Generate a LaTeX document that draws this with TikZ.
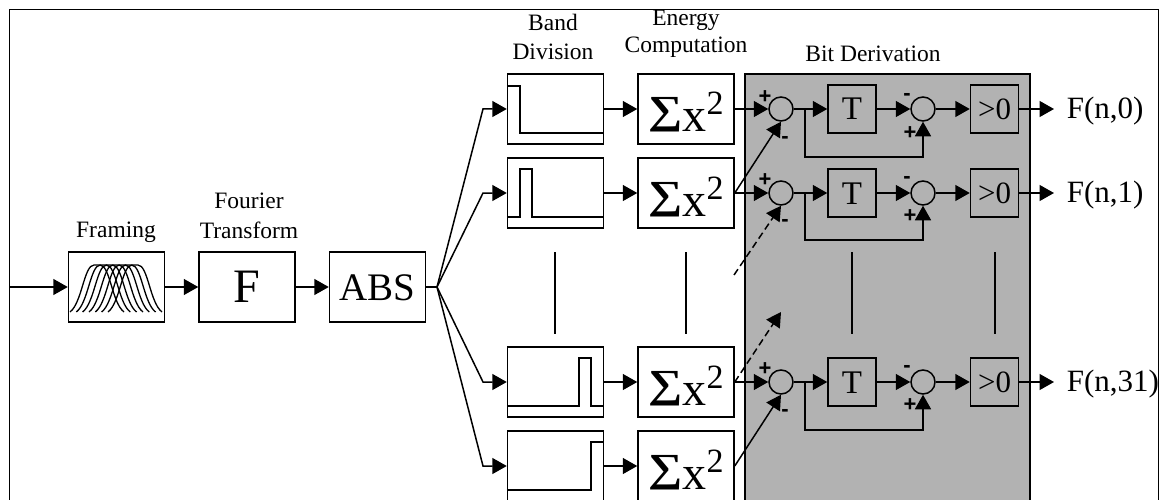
\documentclass[tikz,border=0pt]{standalone}
\usepackage{fontspec}
\setmainfont{Liberation Serif}
\newfontfamily\signfont{Liberation Sans}
\usepackage{tikz}
\usetikzlibrary{arrows.meta, positioning}

\newcommand{\fsize}[1]{\fontsize{#1}{#1}\selectfont}
\newcommand{\sumsquare}{\raisebox{-23pt}[0pt][0pt]{\fsize{48}\raisebox{8pt}{\scalebox{1}[0.83]{\bfseries ∑}}x\raisebox{17pt}{\fsize{34}2}}}

\begin{document}
\begin{tikzpicture}[->, >={Triangle[length=14.5pt,width=16pt]}, x=1pt, y=-1pt, line width=1.5pt, node distance=130.5pt]
\tikzstyle{block}=[draw=black,fill=white,minimum width=96pt,minimum height=70pt,inner sep=0pt]
\tikzstyle{small block}=[draw=black,minimum width=48pt,minimum height=48pt,inner sep=0pt]
\tikzstyle{adder}=[circle,draw=black,minimum size=24pt,inner sep=0pt]
\tikzstyle{caption}=[font=\fsize{23.5},align=center,inner sep=0pt]
\tikzstyle{sign}=[font=\signfont\bfseries\fsize{22},inner sep=0pt]
\tikzstyle{result}=[font=\fsize{31},anchor=west,inner sep=0pt,yshift=-2pt]
\tikzstyle{dashed link}=[dash pattern=on 7pt off 4pt]

\clip (0,0) rectangle (1161,500);
\draw[-, line width=1pt] (9,10) rectangle (1158,520);

% panel behind the bit derivation
\node[draw=black,fill=black!30,minimum width=285pt,minimum height=428pt,inner sep=0pt] (panel) at (887.5,288) {};

% front end
\coordinate (input) at (9,287);
\node[block] (framing) at (116.5,287) {};
\node[block,font=\fsize{48}] (fourier) [right of=framing] {F};
\node[block,font=\fsize{39},text height=26pt,text depth=-3pt] (abs) [right of=fourier] {ABS};
\coordinate (split) at (437,287);

% band filters and energies
\node[block] (bandA) at (555.5,109) {};
\node[block] (bandB) at (555.5,193) {};
\node[block] (bandC) at (555.5,382) {};
\node[block] (bandD) at (555.5,466) {};
\node[block] (energyA) [right of=bandA] {\sumsquare};
\node[block] (energyB) [right of=bandB] {\sumsquare};
\node[block] (energyC) [right of=bandC] {\sumsquare};
\node[block] (energyD) [right of=bandD] {\sumsquare};
\coordinate (inA) at (483,109);
\coordinate (inB) at (483,193);
\coordinate (inC) at (483,382);
\coordinate (inD) at (483,466);

% bit derivation rows
\node[adder] (sumA) at (781,109) {};
\node[adder] (sumB) at (781,193) {};
\node[adder] (sumC) at (781,382) {};
\node[small block,font=\fsize{33},text height=22pt,text depth=-4pt] (delayA) at (852,109) {T};
\node[small block,font=\fsize{33},text height=22pt,text depth=-4pt] (delayB) at (852,193) {T};
\node[small block,font=\fsize{33},text height=22pt,text depth=-4pt] (delayC) at (852,382) {T};
\node[adder] (diffA) at (923,109) {};
\node[adder] (diffB) at (923,193) {};
\node[adder] (diffC) at (923,382) {};
\node[small block,font=\fsize{31},text height=21pt,text depth=-3pt] (signA) at (994.5,109) {>0};
\node[small block,font=\fsize{31},text height=21pt,text depth=-3pt] (signB) at (994.5,193) {>0};
\node[small block,font=\fsize{31},text height=21pt,text depth=-3pt] (signC) at (994.5,382) {>0};
\coordinate (tapA) at (805,109);
\coordinate (tapB) at (805,193);
\coordinate (tapC) at (805,382);
\coordinate (loopA) at (923,157);
\coordinate (loopB) at (923,240);
\coordinate (loopC) at (923,430);
\coordinate (outA) at (1054,109);
\coordinate (outB) at (1054,193);
\coordinate (outC) at (1054,382);
\coordinate (crossB) at (734,275);
\coordinate (crossC) at (781,312);

\node[result] (labelA) at (1066,109) {F(n,0)};
\node[result] (labelB) at (1066,193) {F(n,1)};
\node[result] (labelC) at (1066,382) {F(n,31)};

% captions
\node[caption] (capFraming) at (116,232) {Framing};
\node[caption] (capFourier) at (249,216) {Fourier\\[6pt]Transform};
\node[caption] (capBand) at (553,37) {Band\\[6pt]Division};
\node[caption] (capEnergy) at (686,34) {Energy\\[4pt]Computation};
\node[caption] (capBit) at (873,54) {Bit Derivation};

% signs at the adders
\node[sign] (plusA) at (765,97) {+};
\node[sign] (plusB) at (765,180) {+};
\node[sign] (plusC) at (765,369) {+};
\node[sign] (minusA) at (785,140) {-};
\node[sign] (minusB) at (785,223) {-};
\node[sign] (minusC) at (785,413) {-};
\node[sign] (minusD) at (907,97) {-};
\node[sign] (minusE) at (907,180) {-};
\node[sign] (minusF) at (907,369) {-};
\node[sign] (plusD) at (910,133) {+};
\node[sign] (plusE) at (910,216) {+};
\node[sign] (plusF) at (910,405) {+};

% pass bands
\draw[-] (bandA.west |- 0,86) -- (520,86) -- (520,133) -- (bandA.east |- 0,133);
\draw[-] (bandB.west |- 0,217) -- (520,217) -- (520,169) -- (532,169) -- (532,217) -- (bandB.east |- 0,217);
\draw[-] (bandC.west |- 0,406) -- (579,406) -- (579,358) -- (591,358) -- (591,406) -- (bandC.east |- 0,406);
\draw[-] (bandD.west |- 0,490) -- (591,490) -- (591,442) -- (bandD.east |- 0,442);

% overlapping windows
\begin{scope}[-, line width=1.3pt]
\clip (framing.south west) rectangle (framing.north east);
\foreach \c in {97,103.3,109.6,116,122.3,128.6,135}
  \draw (\c-27,312) .. controls (\c-15,303) and (\c-13,265) .. (\c-3,265)
        -- (\c+3,265) .. controls (\c+13,265) and (\c+15,303) .. (\c+27,312);
\end{scope}

\path
(input) edge (framing.west)
(framing) edge (fourier)
(fourier) edge (abs);
\draw[-] (abs.east) -- (split);

\draw (split) -- (inA) -- (bandA.west);
\draw (split) -- (inB) -- (bandB.west);
\draw (split) -- (inC) -- (bandC.west);
\draw (split) -- (inD) -- (bandD.west);

\path
(bandA) edge (energyA)
(bandB) edge (energyB)
(bandC) edge (energyC)
(bandD) edge (energyD)
(energyA) edge (sumA)
(energyB) edge (sumB)
(energyC) edge (sumC)
(energyB.east) edge (sumA.south)
(crossB) edge[dashed link] (sumB.south)
(energyC.east) edge[dashed link] (crossC)
(energyD.east) edge (sumC.south)
(sumA) edge (delayA)
(sumB) edge (delayB)
(sumC) edge (delayC)
(delayA) edge (diffA)
(delayB) edge (diffB)
(delayC) edge (diffC)
(diffA) edge (signA)
(diffB) edge (signB)
(diffC) edge (signC)
(signA) edge (outA)
(signB) edge (outB)
(signC) edge (outC);

\draw (tapA) |- (loopA) -- (diffA.south);
\draw (tapB) |- (loopB) -- (diffB.south);
\draw (tapC) |- (loopC) -- (diffC.south);

% column breaks
\draw[-] (555,252) -- (555,334);
\draw[-] (686,252) -- (686,334);
\draw[-] (852,252) -- (852,334);
\draw[-] (995,252) -- (995,334);
\end{tikzpicture}
\end{document}
